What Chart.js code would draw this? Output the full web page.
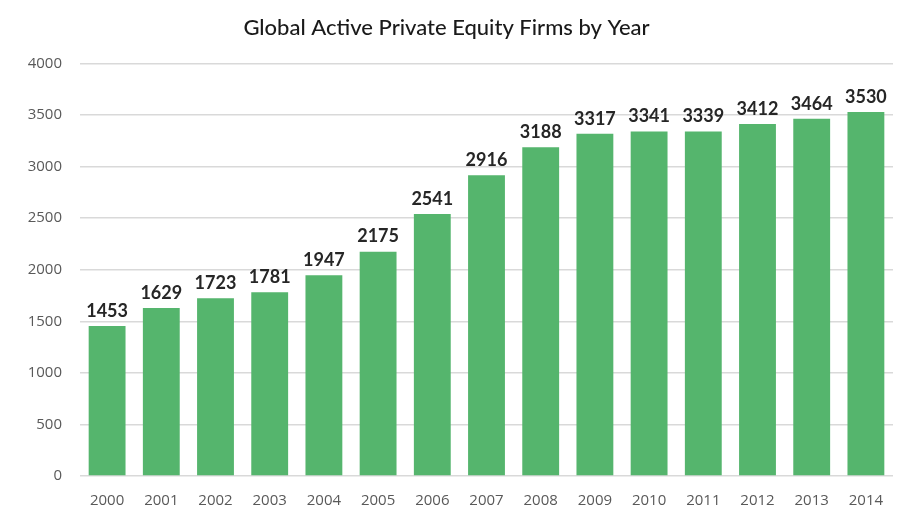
<!DOCTYPE html>
<html lang="en">
<head>
    <meta charset="UTF-8">
    <title>Global Active Private Equity Firms by Year</title>
    <style>
        html, body { margin: 0; padding: 0; background: #fff; }
        #wrap { width: 919px; height: 529px; }
    </style>
</head>
<body>
<div id="wrap"><canvas id="peChart" width="919" height="529"></canvas></div>
<script src="https://cdn.jsdelivr.net/npm/chart.js"></script>
<script>
const years = ["2000", "2001", "2002", "2003", "2004", "2005", "2006", "2007", "2008", "2009", "2010", "2011", "2012", "2013", "2014"];
const firmCounts = [1453, 1629, 1723, 1781, 1947, 2175, 2541, 2916, 3188, 3317, 3341, 3339, 3412, 3464, 3530];

// value labels above bars
const barLabels = {
    id: 'barLabels',
    afterDatasetsDraw(chart) {
        const ctx = chart.ctx;
        const meta = chart.getDatasetMeta(0);
        ctx.save();
        ctx.font = 'bold 18px Lato, "Open Sans", sans-serif';
        ctx.fillStyle = '#262626';
        ctx.textAlign = 'center';
        ctx.textBaseline = 'bottom';
        meta.data.forEach((bar, i) => {
            ctx.fillText(String(firmCounts[i]), bar.x, bar.y - 6);
        });
        ctx.restore();
    }
};

new Chart(document.getElementById('peChart').getContext('2d'), {
    type: 'bar',
    data: {
        labels: years,
        datasets: [{
            data: firmCounts,
            backgroundColor: '#55b56d',
            categoryPercentage: 0.68,
            barPercentage: 1.0
        }]
    },
    options: {
        responsive: false,
        animation: false,
        layout: { padding: { top: 0, right: 26, bottom: 10, left: 0 } },
        plugins: {
            legend: { display: false },
            tooltip: { enabled: false },
            title: {
                display: true,
                text: 'Global Active Private Equity Firms by Year',
                color: '#1a1a1a',
                font: { family: 'Lato, "Open Sans", sans-serif', size: 22, weight: '500' },
                padding: { top: 15, bottom: 22 }
            }
        },
        scales: {
            x: {
                grid: { display: false },
                border: { display: false },
                ticks: {
                    color: '#595959',
                    font: { family: '"Open Sans", sans-serif', size: 15 },
                    padding: 8,
                    maxRotation: 0
                },
                afterFit(scale) { scale.height = 43; }
            },
            y: {
                min: 0,
                max: 4000,
                ticks: {
                    stepSize: 500,
                    color: '#595959',
                    font: { family: '"Open Sans", sans-serif', size: 15 },
                    padding: 18,
                    callback: (v) => String(v)
                },
                grid: { color: '#d9d9d9', lineWidth: 1.5, drawTicks: false },
                border: { display: false },
                afterFit(scale) { scale.width = 80; }
            }
        }
    },
    plugins: [barLabels]
});
</script>
</body>
</html>
